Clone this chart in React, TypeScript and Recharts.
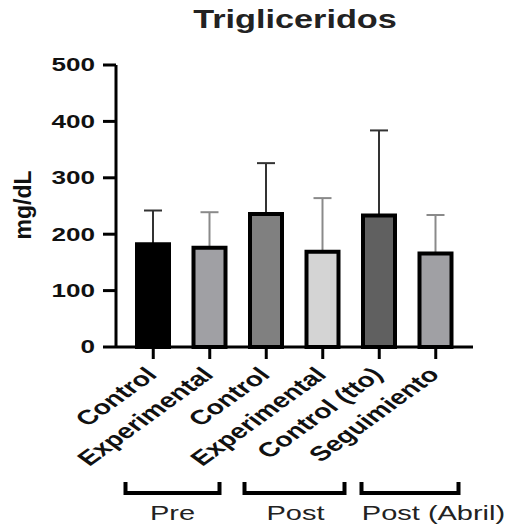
import { Bar, BarChart, Cell, ErrorBar, XAxis, YAxis } from "recharts";

const categories = ["Control", "Experimental", "Control", "Experimental", "Control (tto)", "Seguimiento"];
const means = [182, 176, 236, 169, 233, 166];
const sds = [60, 63, 90, 95, 151, 68];
const groups = ["Pre", "Post", "Post (Abril)"];
const yTicks = [0, 100, 200, 300, 400, 500];

const fills = ["#000000", "#a0a0a4", "#808080", "#d4d4d4", "#606060", "#a0a0a4"];

const W = 509;
const H = 527;
const LEFT = 116;
const RIGHT = 36;
const PAD = 9;
const BAND = (W - LEFT - RIGHT - 2 * PAD) / categories.length;
const SX = 1.38;
const FONT = "'Liberation Sans', Arial, sans-serif";

// hand nudges for the group brackets: [left, right, label centre] relative to pair midpoint
const bracketNudge = [
  [-56, 38, -9],
  [-50, 50, 1],
  [-46, 51, 26],
];

const data = categories.map((name, i) => ({
  name,
  mean: means[i],
  errDark: i % 2 === 0 ? [0, sds[i]] : null,
  errGray: i % 2 === 1 ? [0, sds[i]] : null,
}));

function ValueTick(props: any) {
  const { x, y, payload } = props;
  return (
    <text
      transform={`translate(${x},${y}) scale(1.45,1)`}
      textAnchor="end"
      dy="0.36em"
      fontSize={18}
      fontWeight="bold"
      fontFamily={FONT}
      fill="#111"
    >
      {payload.value}
    </text>
  );
}

function CategoryTick(props: any) {
  const { x, y, payload } = props;
  const i = props.index ?? payload.index;
  let group = null;
  if (i % 2 === 0) {
    const g = i / 2;
    const m = x + BAND / 2;
    const [l, r, c] = bracketNudge[g];
    group = (
      <g>
        <path
          d={`M${m + l},${y + 123} V${y + 134} H${m + r} V${y + 123}`}
          fill="none"
          stroke="#000"
          strokeWidth={4}
        />
        <text
          transform={`translate(${m + c},${y + 161}) scale(${SX},1)`}
          textAnchor="middle"
          fontSize={21}
          fontFamily={FONT}
          fill="#222"
        >
          {groups[g]}
        </text>
      </g>
    );
  }
  return (
    <g>
      <text
        transform={`translate(${x + 5},${y + 17}) scale(${SX},1) rotate(-45)`}
        textAnchor="end"
        fontSize={20.5}
        fontWeight="bold"
        fontFamily={FONT}
        fill="#111"
      >
        {payload.value}
      </text>
      {group}
    </g>
  );
}

export default function App() {
  return (
    <div style={{ position: "absolute", left: 0, top: 0, width: W, height: H, background: "#fff" }}>
      <BarChart
        width={W}
        height={H}
        data={data}
        margin={{ top: 65, right: RIGHT, bottom: 0, left: 0 }}
        barCategoryGap={0}
      >
        <XAxis
          dataKey="name"
          height={180}
          interval={0}
          padding={{ left: PAD, right: PAD }}
          tickSize={12}
          tickMargin={0}
          axisLine={{ stroke: "#000", strokeWidth: 3 }}
          tickLine={{ stroke: "#000", strokeWidth: 3 }}
          tick={CategoryTick}
        />
        <YAxis
          width={LEFT}
          domain={[0, 500]}
          ticks={yTicks}
          tickSize={13}
          tickMargin={8}
          axisLine={{ stroke: "#000", strokeWidth: 3 }}
          tickLine={{ stroke: "#000", strokeWidth: 3 }}
          tick={ValueTick}
          label={{
            content: () => (
              <text
                transform="translate(31,205) rotate(-90)"
                textAnchor="middle"
                fontSize={23}
                fontWeight="bold"
                fontFamily={FONT}
                fill="#111"
              >
                mg/dL
              </text>
            ),
          }}
        />
        <Bar dataKey="mean" barSize={32} stroke="#000" strokeWidth={4} isAnimationActive={false}>
          {data.map((_, i) => (
            <Cell key={i} fill={fills[i]} />
          ))}
          {/* whiskers go underneath the bars so the lower cap hides behind the border */}
          <ErrorBar dataKey="errDark" direction="y" width={9} stroke="#333" strokeWidth={2} isAnimationActive={false} zIndex={100} />
          <ErrorBar dataKey="errGray" direction="y" width={9} stroke="#8a8a8a" strokeWidth={2} isAnimationActive={false} zIndex={100} />
        </Bar>
      </BarChart>
      <svg width={W} height={40} style={{ position: "absolute", left: 0, top: 0, pointerEvents: "none" }}>
        <text
          transform={`translate(295,28) scale(1.37,1)`}
          textAnchor="middle"
          fontSize={25}
          fontWeight="bold"
          fontFamily={FONT}
          fill="#222"
        >
          Trigliceridos
        </text>
      </svg>
    </div>
  );
}
